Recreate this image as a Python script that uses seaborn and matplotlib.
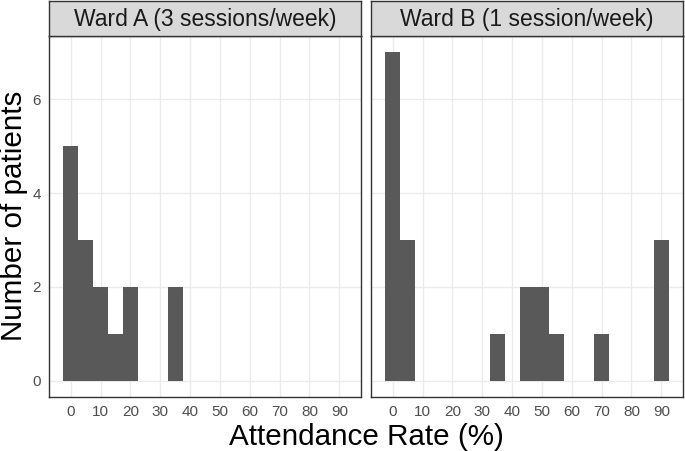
import numpy as np
import pandas as pd
import matplotlib
matplotlib.use('Agg')
import matplotlib.pyplot as plt
import seaborn as sns

# bin centres (width 5) and patient counts per ward
ward_a_bins = [0, 5, 10, 15, 20, 35]
ward_a_counts = [5, 3, 2, 1, 2, 2]
ward_b_bins = [0, 5, 35, 45, 50, 55, 70, 90]
ward_b_counts = [7, 3, 1, 2, 2, 1, 1, 3]
panel_titles = ['Ward A (3 sessions/week)', 'Ward B (1 session/week)']
x_ticks = list(range(0, 100, 10))
y_ticks = [0, 2, 4, 6]

df = pd.concat([
    pd.DataFrame({'ward': panel_titles[0], 'rate': ward_a_bins, 'n': ward_a_counts}),
    pd.DataFrame({'ward': panel_titles[1], 'rate': ward_b_bins, 'n': ward_b_counts}),
])

sns.set_style('white')
plt.rcParams['font.family'] = ['Liberation Sans', 'DejaVu Sans']

fig = plt.figure(figsize=(6.85, 4.51), dpi=100)
lefts = [49 / 685, 371 / 685]
w = 312 / 685
bottom = 1 - 397 / 451
h = 361 / 451

for i, title in enumerate(panel_titles):
    ax = fig.add_axes([lefts[i], bottom, w, h])
    sub = df[df['ward'] == title]
    sns.histplot(data=sub, x='rate', weights='n', binwidth=5, binrange=(-2.5, 92.5),
                 ax=ax, color='#595959', alpha=1, edgecolor='none', linewidth=0, zorder=3)
    ax.set_xlim(-7.25, 97.25)
    ax.set_ylim(-0.35, 7.35)
    ax.set_xticks(x_ticks)
    ax.set_yticks(y_ticks)
    ax.grid(True, color='#EBEBEB', linewidth=1, zorder=0)
    ax.set_axisbelow(True)
    for s in ax.spines.values():
        s.set_color('#333333')
        s.set_linewidth(1)
    ax.tick_params(axis='both', length=3, width=0.8, color='#333333',
                   labelsize=11, labelcolor='#4D4D4D', pad=3, direction='out')
    ax.set_xlabel('')
    ax.set_ylabel('')
    if i == 1:
        ax.tick_params(axis='y', left=False, labelleft=False)
    # facet strip
    sax = fig.add_axes([lefts[i], 1 - 36 / 451, w, 35 / 451])
    sax.set_xticks([])
    sax.set_yticks([])
    sax.set_facecolor('#D9D9D9')
    for s in sax.spines.values():
        s.set_color('#333333')
        s.set_linewidth(1)
    sax.text(0.5, 0.47, title, ha='center', va='center', fontsize=16.5,
             color='#1A1A1A', transform=sax.transAxes)

fig.text(0.5 * (49 + 684) / 685, 1 - 437 / 451, 'Attendance Rate (%)',
         ha='center', va='center', fontsize=21.3, color='black')
fig.text(14 / 685, 1 - 216 / 451, 'Number of patients', rotation=90,
         ha='center', va='center', fontsize=21.3, color='black')

fig.savefig('out.png', dpi=100)
